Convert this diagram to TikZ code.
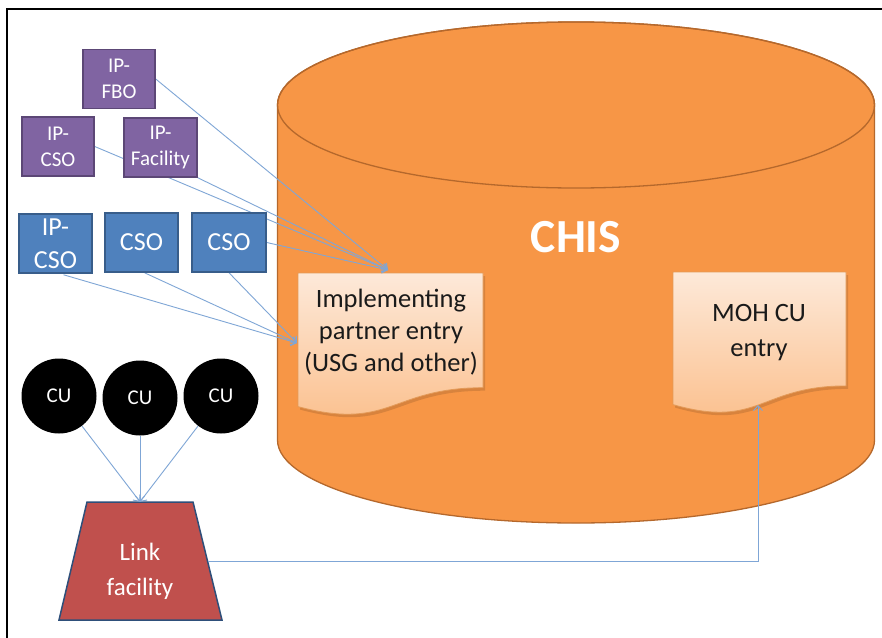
\documentclass[tikz,border=0pt]{standalone}
\usepackage{fontspec}
\setmainfont{Carlito}
\usetikzlibrary{arrows.meta,calc}

\definecolor{cylfill}{HTML}{F79646}
\definecolor{cyledge}{HTML}{B5682C}
\definecolor{docedge}{HTML}{E39A58}
\definecolor{doctop}{HTML}{FDE9D9}
\definecolor{docbot}{HTML}{FBBE8A}
\definecolor{purfill}{HTML}{8064A2}
\definecolor{puredge}{HTML}{5C4776}
\definecolor{bluefill}{HTML}{4F81BD}
\definecolor{blueedge}{HTML}{385D8A}
\definecolor{redfill}{HTML}{C0504D}
\definecolor{rededge}{HTML}{2E4F7A}
\definecolor{linkline}{HTML}{7FA6D6}
\definecolor{doctxt}{HTML}{1A1A1A}

\pgfdeclarelayer{back}
\pgfdeclarelayer{wires}
\pgfsetlayers{back,wires,main}

\tikzset{
  purbox/.style={draw=puredge, fill=purfill, line width=1.5pt,
    minimum width=72pt, minimum height=59pt, inner sep=0pt,
    text=white, align=center, font=\fontsize{21}{26}\selectfont},
  bluebox/.style={draw=blueedge, fill=bluefill, line width=1.5pt,
    minimum width=73pt, minimum height=59pt, inner sep=0pt,
    text=white, align=center, font=\fontsize{26}{33}\selectfont},
  cunode/.style={circle, fill=black, minimum size=75pt, inner sep=0pt,
    text=white, font=\fontsize{21}{24}\selectfont},
  doctext/.style={text=doctxt, align=center, inner sep=0pt,
    font=\fontsize{26.5}{32}\selectfont},
  linktext/.style={text=white, align=center, inner sep=0pt,
    minimum width=120pt, minimum height=138pt,
    font=\fontsize{25}{35}\selectfont},
  conn/.style={draw=linkline, line width=0.9pt,
    -{Straight Barb[length=5pt,width=9pt]}},
  docshape/.style={draw=docedge, line width=0.8pt,
    top color=doctop, bottom color=docbot},
}

\begin{document}
\begin{tikzpicture}[x=1pt,y=-1pt]
\useasboundingbox (0,0) rectangle (882,637);

% database cylinder with the two document sheets
\begin{pgfonlayer}{back}
  \fill[white] (0,0) rectangle (882,637);

  \filldraw[fill=cylfill, draw=cyledge, line width=1.3pt]
    (277.5,105) -- (277.5,440)
    arc[start angle=180, end angle=0, x radius=298.5, y radius=83]
    -- (874.5,105)
    arc[start angle=0, end angle=-180, x radius=298.5, y radius=83]
    -- cycle;
  \draw[cyledge, line width=1.3pt] (576,105) ellipse[x radius=298.5, y radius=83];

  % shadows of the sheets
  \fill[black, opacity=0.12]
    (300,276) -- (485,276) -- (485,390.7)
    .. controls (392.5,390.7) and (392.5,434.4) .. (300,409.6) -- cycle;
  \fill[black, opacity=0.12]
    (675,275) -- (848,275) -- (848,388.9)
    .. controls (761.5,388.9) and (761.5,432.3) .. (675,407.6) -- cycle;

  % sheets
  \path[docshape]
    (298,273) -- (483,273) -- (483,387.7)
    .. controls (390.5,387.7) and (390.5,431.4) .. (298,406.6) -- cycle;
  \path[docshape]
    (673,272) -- (846,272) -- (846,385.9)
    .. controls (759.5,385.9) and (759.5,429.3) .. (673,404.6) -- cycle;

  % link facility trapezoid
  \filldraw[fill=redfill, draw=rededge, line width=1.5pt]
    (87,502) -- (193,502) -- (222,620) -- (59,620) -- cycle;
\end{pgfonlayer}

% frame
\draw[black, line width=2pt] (7,645) -- (7,9) -- (890,9);

\node[text=white, font=\fontsize{47.5}{52}\selectfont\bfseries] (chis) at (576,237.5) {CHIS};
\node[doctext] (iptext) at (391,332) {Implementing\\partner entry\\(USG and other)};
\node[doctext, font=\fontsize{26.5}{35}\selectfont] (mohtext) at (759,332.5) {MOH CU\\entry};

% source boxes
\node[purbox] (ipfbo)  at (119,79)     {IP-\\FBO};
\node[purbox] (ipcsoa) at (58,146.5)   {IP-\\CSO};
\node[purbox, minimum width=73pt] (ipfac) at (160.5,147.5) {IP-\\Facility};
\node[bluebox] (ipcsob) at (55.5,243.5) {IP-\\CSO};
\node[bluebox] (csoa)   at (141.5,242.5) {CSO};
\node[bluebox, minimum width=74pt] (csob) at (229,242.5) {CSO};

% community units
\node[cunode] (cua) at (59,396)  {CU};
\node[cunode] (cub) at (140,398) {CU};
\node[cunode] (cuc) at (221,396) {CU};

\node[linktext] (link) at (140,571) {Link\\facility};

% connector end points
\coordinate (iptop)  at (388,270);
\coordinate (ipleft) at (297,343);
\coordinate (mohin)  at (758,405);
\coordinate (linkr)  at (208,561);

\begin{pgfonlayer}{wires}
  \draw[conn] (ipfbo.east) -- (iptop);
  \draw[conn] (ipcsoa.east) -- (iptop);
  \draw[conn] (ipfac.south east) -- (iptop);
  \draw[conn] (csob.east) -- (iptop);

  \draw[conn] ([xshift=8pt,yshift=-1pt]ipcsob.south) -- (ipleft);
  \draw[conn] ([xshift=3pt]csoa.south) -- (ipleft);
  \draw[conn] (csob.south) -- (ipleft);

  \draw[conn] (cua) -- (link.north);
  \draw[conn] (cub) -- (link.north);
  \draw[conn] (cuc) -- (link.north);

  \draw[conn] (linkr) -| (mohin);
\end{pgfonlayer}
\end{tikzpicture}
\end{document}
